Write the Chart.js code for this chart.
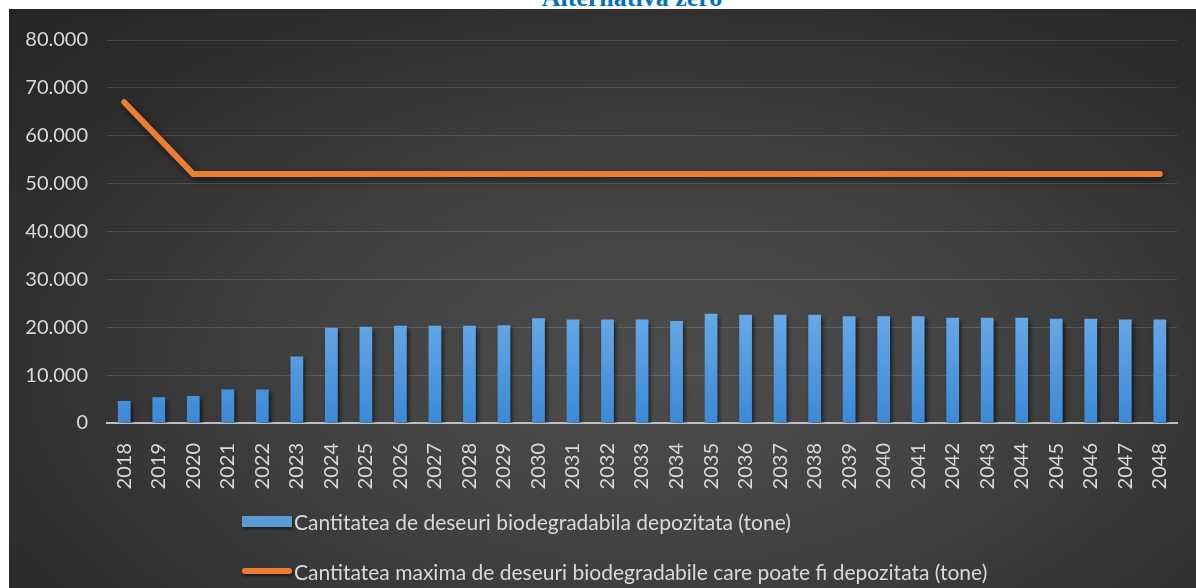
<!DOCTYPE html>
<html>
<head>
<meta charset="utf-8">
<script src="https://cdn.jsdelivr.net/npm/chart.js@4.4.1/dist/chart.umd.min.js"></script>
<style>
  html, body { margin: 0; padding: 0; background: #fff; width: 1196px; height: 588px; overflow: hidden; }
  #title {
    position: absolute; left: 432px; width: 400px; top: -17px;
    line-height: 26px; text-align: center;
    font: bold 26px "Liberation Serif", "Times New Roman", serif; color: #0070c0;
  }
  #panel {
    position: absolute; left: 9px; top: 9px; width: 1187px; height: 579px;
    background: radial-gradient(ellipse 75% 85% at 55% 62%, #4d4d4d 0%, #414141 40%, #2f2f2f 75%, #262626 100%);
  }
  #panel canvas { position: absolute; left: 0; top: 0; }
  #legend { position: absolute; left: 233px; top: 487px; font: 21px Lato, sans-serif; color: #d9d9d9; }
  .row { height: 50px; display: flex; align-items: center; }
  .sym { width: 50px; margin-right: 2px; }
</style>
</head>
<body>
<div id="title">Alternativa zero</div>
<div id="panel">
  <canvas id="chart" width="1187" height="579"></canvas>
  <div id="legend"></div>
</div>
<script>
// chart data
const years = ['2018','2019','2020','2021','2022','2023','2024','2025','2026','2027','2028','2029','2030','2031','2032','2033',
  '2034','2035','2036','2037','2038','2039','2040','2041','2042','2043','2044','2045','2046','2047','2048'];
const depozitata = [4600, 5400, 5650, 7000, 7000, 13900, 19900, 20100, 20300, 20300, 20300, 20400, 21900, 21600, 21600, 21600,
  21300, 22800, 22600, 22600, 22600, 22300, 22300, 22300, 22000, 22000, 22000, 21800, 21800, 21600, 21600];
const maxima = [67000, 59500, 52000, 52000, 52000, 52000, 52000, 52000, 52000, 52000, 52000, 52000, 52000, 52000, 52000, 52000,
  52000, 52000, 52000, 52000, 52000, 52000, 52000, 52000, 52000, 52000, 52000, 52000, 52000, 52000, 52000];
const labelBars = 'Cantitatea de deseuri biodegradabila depozitata (tone)';
const labelLine = 'Cantitatea maxima de deseuri biodegradabile care poate fi depozitata (tone)';

const textColor = '#d9d9d9';
const tickFont = { family: 'Lato', size: 20 };

// soft drop shadow under bars and the line
const shadowPlugin = {
  id: 'shadows',
  beforeDatasetDraw(chart, args) {
    const ctx = chart.ctx;
    ctx.save();
    ctx.shadowColor = 'rgba(0,0,0,0.6)';
    ctx.shadowBlur = args.meta.type === 'line' ? 7 : 4;
    ctx.shadowOffsetX = 2;
    ctx.shadowOffsetY = 3;
  },
  afterDatasetDraw(chart) {
    chart.ctx.restore();
  }
};

function barFill(c) {
  const { ctx, chartArea, scales } = c.chart;
  if (!chartArea) return '#5b9bd5';
  const g = ctx.createLinearGradient(0, scales.y.getPixelForValue(24000), 0, chartArea.bottom);
  g.addColorStop(0, '#6aaae8');
  g.addColorStop(1, '#3b8ad6');
  return g;
}

const chart = new Chart(document.getElementById('chart'), {
  type: 'bar',
  data: {
    labels: years,
    datasets: [
      {
        type: 'bar',
        label: labelBars,
        data: depozitata,
        backgroundColor: barFill,
        legendColor: '#5b9bd5',
        categoryPercentage: 0.74,
        barPercentage: 0.5,
        order: 2
      },
      {
        type: 'line',
        label: labelLine,
        data: maxima,
        borderColor: '#ed7d31',
        borderWidth: 6,
        borderCapStyle: 'round',
        borderJoinStyle: 'round',
        pointRadius: 0,
        tension: 0,
        order: 1
      }
    ]
  },
  options: {
    responsive: false,
    animation: false,
    layout: { padding: { left: 0, right: 13, top: 27, bottom: 95 } },
    plugins: { legend: { display: false }, tooltip: { enabled: false } },
    scales: {
      x: {
        grid: { display: false },
        border: { display: true, color: '#bfbfbf', width: 2 },
        ticks: { color: textColor, font: tickFont, minRotation: 90, maxRotation: 90, padding: 12, autoSkip: false },
        afterFit(scale) { scale.height = 70; }
      },
      y: {
        min: 0,
        max: 80000,
        grid: { color: 'rgba(255,255,255,0.14)', lineWidth: 1, drawTicks: false },
        border: { display: false },
        ticks: {
          stepSize: 10000,
          color: textColor,
          font: tickFont,
          padding: 19,
          callback: v => v.toLocaleString('de-DE')
        },
        afterFit(scale) { scale.width = 98; }
      }
    }
  },
  plugins: [shadowPlugin]
});

// legend: rows aligned on the left, as in the original
const legend = document.getElementById('legend');
chart.data.datasets.forEach(ds => {
  const row = document.createElement('div');
  row.className = 'row';
  const sym = document.createElement('div');
  sym.className = 'sym';
  if (ds.type === 'bar') {
    sym.style.height = '11px';
    sym.style.background = ds.legendColor;
    sym.style.boxShadow = '1px 2px 3px rgba(0,0,0,0.5)';
  } else {
    sym.style.height = '6px';
    sym.style.borderRadius = '3px';
    sym.style.background = ds.borderColor;
    sym.style.boxShadow = '1px 2px 3px rgba(0,0,0,0.5)';
  }
  const txt = document.createElement('span');
  txt.textContent = ds.label;
  row.appendChild(sym);
  row.appendChild(txt);
  legend.appendChild(row);
});
</script>
</body>
</html>
